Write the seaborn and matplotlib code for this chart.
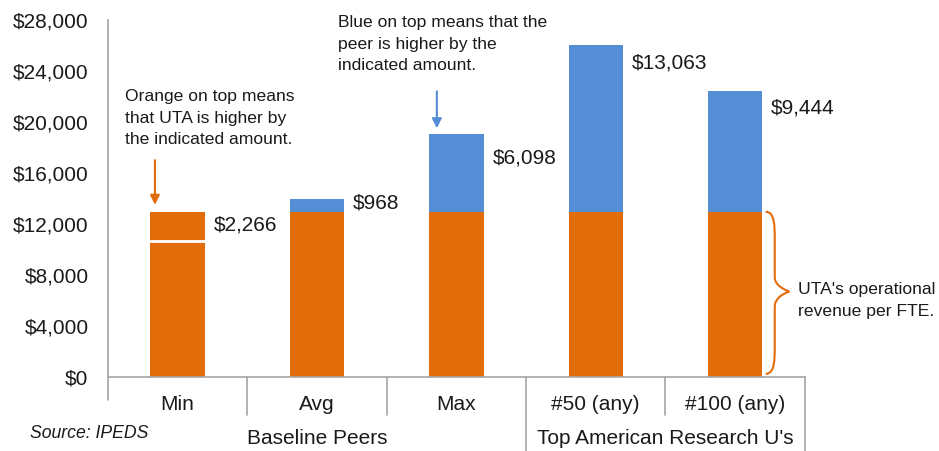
import numpy as np
import pandas as pd
import seaborn as sns
import matplotlib.pyplot as plt
from matplotlib.path import Path
from matplotlib.patches import PathPatch
import matplotlib.transforms as mtransforms

# --- data ---
categories = ["Min", "Avg", "Max", "#50 (any)", "#100 (any)"]
groups = ["Baseline Peers", "Top American Research U's"]
group_sizes = [3, 2]
uta_value = 12950
gaps = [-2266, 968, 6098, 13063, 9444]   # peer minus UTA
gap_labels = ["$2,266", "$968", "$6,098", "$13,063", "$9,444"]
label_drop_px = [-13, -4, -24, -18, -17]   # where the $ label sits below the bar top
yticks = list(range(0, 28001, 4000))

peer_values = [uta_value + g for g in gaps]
df = pd.DataFrame({"category": categories, "peer": peer_values,
                   "uta": [uta_value] * len(categories)})

ORANGE = "#E36C0A"
BLUE = "#558ED5"
GRAY = "#A6A6A6"
TXT = "#1a1a1a"

sns.set_style("white")
plt.rcParams["font.family"] = ["Liberation Sans", "DejaVu Sans"]

fig = plt.figure(figsize=(9.39, 4.51), dpi=100)
ax = fig.add_axes([0.115, 0.164, 0.742, 0.792])

bw = 0.39
# peer bars (blue) first, UTA (orange) over them
sns.barplot(data=df, x="category", y="peer", color=BLUE, saturation=1,
            width=bw, linewidth=0, ax=ax)
sns.barplot(data=df, x="category", y="uta", color=ORANGE, saturation=1,
            width=bw, linewidth=0, ax=ax)

# white line where peer is below UTA
for i, (p, g) in enumerate(zip(peer_values, gaps)):
    if g < 0:
        ax.plot([i - bw / 2, i + bw / 2], [p, p], color="white", lw=2, zorder=5)

# gap labels next to each bar
for i, (p, lab, dy) in enumerate(zip(peer_values, gap_labels, label_drop_px)):
    top = max(p, uta_value)
    ax.annotate(lab, xy=(i + bw / 2, top), xytext=(9, dy),
                textcoords="offset pixels", ha="left", va="center",
                fontsize=15, color=TXT)

ax.set_xlim(-0.5, len(categories) - 0.5)
ax.set_ylim(0, 28000)
ax.set_yticks(yticks)
ax.set_yticklabels([f"${v:,}" for v in yticks], fontsize=15, color=TXT)
ax.tick_params(axis="y", direction="out", length=5, width=1, color=GRAY, pad=9)
ax.set_xticks([])
ax.set_xlabel("")
ax.set_ylabel("")
for s in ["top", "right"]:
    ax.spines[s].set_visible(False)
for s in ["left", "bottom"]:
    ax.spines[s].set_color(GRAY)
    ax.spines[s].set_linewidth(1.2)

# two-level category axis
trans = mtransforms.blended_transform_factory(ax.transData, ax.transAxes)
ax_h = 0.792 * 451
for i, c in enumerate(categories):
    ax.text(i, -27 / ax_h, c, transform=trans, ha="center", va="center",
            fontsize=15, color=TXT)
bounds = np.cumsum([0] + group_sizes) - 0.5
start = 0
for g, n in zip(groups, group_sizes):
    ax.text(start + (n - 1) / 2, -61 / ax_h, g, transform=trans, ha="center",
            va="center", fontsize=15, color=TXT)
    start += n
for b in np.arange(-0.5, len(categories)):
    if b == -0.5:
        lo = -23
    elif b in bounds:
        lo = -76
    else:
        lo = -38
    ax.plot([b, b], [0, lo / ax_h], transform=trans, color=GRAY, lw=1.2,
            clip_on=False)

ax.text(-1.06, -56 / ax_h, "Source: IPEDS", transform=trans, ha="left",
        va="center", fontsize=12.7, style="italic", color=TXT)

# explanatory notes with arrows
ax.text(-0.378, 20300, "Orange on top means\nthat UTA is higher by\nthe indicated amount.",
        ha="left", va="center", fontsize=12.6, linespacing=1.55, color=TXT)
ax.annotate("", xy=(-0.163, 13500), xytext=(-0.163, 17000),
            arrowprops=dict(arrowstyle="-|>", color=ORANGE, lw=1.5,
                            mutation_scale=14, shrinkA=0, shrinkB=0))
ax.text(1.15, 26100, "Blue on top means that the\npeer is higher by the\nindicated amount.",
        ha="left", va="center", fontsize=12.6, linespacing=1.55, color=TXT)
ax.annotate("", xy=(1.86, 19500), xytext=(1.86, 22400),
            arrowprops=dict(arrowstyle="-|>", color=BLUE, lw=1.5,
                            mutation_scale=14, shrinkA=0, shrinkB=0))

# curly brace marking UTA's value
x0, xv, xc, h = 4.22, 4.285, 4.39, 1100
ytop, ybot = uta_value, 250
ymid = 6700
verts = [(x0, ytop), (xv, ytop), (xv, ytop - h), (xv, ytop - 2 * h),
         (xv, ymid + h),
         (xv, ymid + h / 3), (xc, ymid), (xc, ymid),
         (xv, ymid - h / 3), (xv, ymid - h), (xv, ymid - h),
         (xv, ybot + 2 * h),
         (xv, ybot + h), (xv, ybot), (x0, ybot)]
codes = [Path.MOVETO, Path.CURVE4, Path.CURVE4, Path.CURVE4, Path.LINETO,
         Path.CURVE4, Path.CURVE4, Path.CURVE4, Path.CURVE4, Path.CURVE4, Path.CURVE4,
         Path.LINETO, Path.CURVE4, Path.CURVE4, Path.CURVE4]
ax.add_patch(PathPatch(Path(verts, codes), facecolor="none", edgecolor=ORANGE,
                       lw=1.5, clip_on=False))
ax.text(4.45, 6000, "UTA's operational\nrevenue per FTE.", ha="left", va="center",
        fontsize=12.6, linespacing=1.55, clip_on=False, color=TXT)

fig.savefig("out.png", dpi=100)
plt.close()
